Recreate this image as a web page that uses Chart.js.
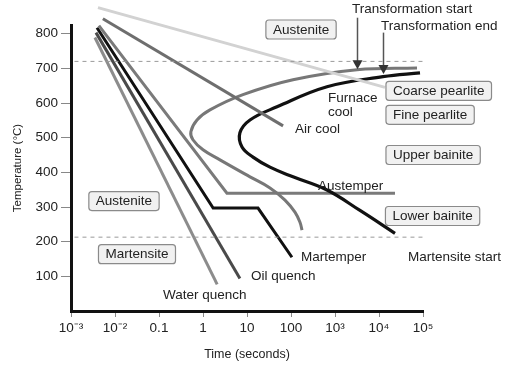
<!DOCTYPE html>
<html>
<head>
<meta charset="utf-8">
<script src="https://cdn.jsdelivr.net/npm/chart.js@4"></script>
<style>
  body { margin: 0; background: #fff; }
  #wrap { width: 532px; height: 375px; position: relative; }
</style>
</head>
<body>
<div id="wrap"><canvas id="ttt"></canvas></div>
<script>
// time in seconds, temperature in °C
const furnaceTime = [0.0041, 13700];
const furnaceTemp = [875, 645];
const airTime = [0.0053, 66];
const airTemp = [843, 534];
const waterTime = [0.0035, 2.1];
const waterTemp = [789, 77];
const oilTime = [0.0037, 6.9];
const oilTemp = [803, 94];
const martemperTime = [0.0039, 1.7, 17.8, 105];
const martemperTemp = [817, 297, 297, 155];
const austemperTime = [0.0043, 3.5, 23100];
const austemperTemp = [823, 340, 340];

// transformation start / end C-curves
const startTime = [73100, 3160, 111, 8.1, 1.44, 0.73, 0.53, 0.59, 1.0, 2.43, 11.7, 33.3, 73, 123, 160, 178];
const startTemp = [701, 696, 667, 624, 580, 551, 517, 494, 465, 436, 387, 355, 320, 285, 256, 233];
const endTime = [85500, 12300, 658, 48.1, 11.7, 6.9, 7.7, 13.7, 33.3, 111, 658, 3700, 23100];
const endTemp = [687, 676, 647, 589, 551, 514, 473, 444, 415, 387, 349, 290, 224];

// eutectoid and martensite-start temperatures
const a1Temp = 720;
const msTemp = 213;
const refTime = [0.0012, 100000];

const xTicks = [0.001, 0.01, 0.1, 1, 10, 100, 1000, 10000, 100000];
const xTickLabels = ['10⁻³', '10⁻²', '0.1', '1', '10', '100', '10³', '10⁴', '10⁵'];
const yTicks = [100, 200, 300, 400, 500, 600, 700, 800];

const FONT = '"Liberation Sans", Arial, sans-serif';

function pts(ts, vs) {
  return ts.map((t, i) => ({ x: t, y: vs[i] }));
}

// labels and boxes, anchored in data coordinates
const boxes = [
  { text: 'Austenite', t: 169, T: 812, align: 'center' },
  { text: 'Coarse pearlite', t: 14400, T: 635, align: 'left' },
  { text: 'Fine pearlite', t: 14400, T: 566, align: 'left' },
  { text: 'Upper bainite', t: 14400, T: 450, align: 'left' },
  { text: 'Lower bainite', t: 14000, T: 274, align: 'left' },
  { text: 'Austenite', t: 0.016, T: 317, align: 'center' },
  { text: 'Martensite', t: 0.0316, T: 164, align: 'center' }
];
const labels = [
  { text: 'Transformation start', t: 2433, T: 870 },
  { text: 'Transformation end', t: 11100, T: 820 },
  { text: 'Furnace', t: 693, T: 615 },
  { text: 'cool', t: 693, T: 572 },
  { text: 'Air cool', t: 123, T: 524 },
  { text: 'Austemper', t: 411, T: 360 },
  { text: 'Martemper', t: 169, T: 155 },
  { text: 'Martensite start', t: 45600, T: 155 },
  { text: 'Oil quench', t: 12.3, T: 100 },
  { text: 'Water quench', t: 0.123, T: 45 }
];
const arrows = [
  { t: 3162, from: 846, to: 697 },
  { t: 12300, from: 803, to: 684 }
];

const annotate = {
  id: 'annotate',
  afterDatasetsDraw(chart) {
    const { ctx, scales: { x, y } } = chart;
    ctx.save();
    ctx.font = '13.5px ' + FONT;
    ctx.textBaseline = 'middle';

    arrows.forEach(a => {
      const px = Math.round(x.getPixelForValue(a.t)) + 0.5;
      const y0 = y.getPixelForValue(a.from);
      const y1 = y.getPixelForValue(a.to);
      ctx.strokeStyle = '#555';
      ctx.lineWidth = 1.5;
      ctx.beginPath();
      ctx.moveTo(px, y0);
      ctx.lineTo(px, y1 - 6);
      ctx.stroke();
      ctx.fillStyle = '#333';
      ctx.beginPath();
      ctx.moveTo(px - 5, y1 - 9);
      ctx.lineTo(px + 5, y1 - 9);
      ctx.lineTo(px, y1);
      ctx.closePath();
      ctx.fill();
    });

    boxes.forEach(b => {
      const w = ctx.measureText(b.text).width + 14;
      const h = 19;
      const cx = x.getPixelForValue(b.t);
      const cy = y.getPixelForValue(b.T);
      const left = b.align === 'left' ? cx : cx - w / 2;
      ctx.fillStyle = '#f1f1f1';
      ctx.strokeStyle = '#8a8a8a';
      ctx.lineWidth = 1.2;
      ctx.beginPath();
      ctx.roundRect(left, cy - h / 2, w, h, 3);
      ctx.fill();
      ctx.stroke();
      ctx.fillStyle = '#222';
      ctx.textAlign = 'left';
      ctx.fillText(b.text, left + 7, cy + 0.5);
    });

    ctx.fillStyle = '#222';
    ctx.textAlign = 'left';
    labels.forEach(l => {
      ctx.fillText(l.text, x.getPixelForValue(l.t), y.getPixelForValue(l.T));
    });
    ctx.restore();
  }
};

function line(data, color, width, tension) {
  return {
    data: data,
    borderColor: color,
    borderWidth: width,
    tension: tension || 0,
    pointRadius: 0,
    fill: false,
    clip: false
  };
}

const dash = (temp) => ({
  data: pts(refTime, [temp, temp]),
  borderColor: '#9a9a9a',
  borderWidth: 1,
  borderDash: [4, 4],
  pointRadius: 0,
  fill: false
});

new Chart(document.getElementById('ttt'), {
  type: 'line',
  data: {
    datasets: [
      dash(a1Temp),
      dash(msTemp),
      line(pts(furnaceTime, furnaceTemp), '#d2d2d2', 3),
      line(pts(airTime, airTemp), '#6e6e6e', 3),
      line(pts(startTime, startTemp), '#777777', 3, 0.4),
      line(pts(endTime, endTemp), '#111111', 3.2, 0.4),
      line(pts(austemperTime, austemperTemp), '#7a7a7a', 3),
      line(pts(waterTime, waterTemp), '#8c8c8c', 3),
      line(pts(oilTime, oilTemp), '#4a4a4a', 3),
      line(pts(martemperTime, martemperTemp), '#111111', 3)
    ]
  },
  options: {
    responsive: true,
    maintainAspectRatio: false,
    animation: false,
    layout: { padding: { left: 0, right: 109, top: 25, bottom: 0 } },
    plugins: { legend: { display: false }, tooltip: { enabled: false } },
    scales: {
      x: {
        type: 'logarithmic',
        min: 0.001,
        max: 100000,
        afterBuildTicks: s => { s.ticks = xTicks.map(v => ({ value: v })); },
        afterFit: s => { s.height = 64; },
        grid: { drawOnChartArea: false, tickLength: 6, color: '#888' },
        border: { display: true, color: '#111', width: 3 },
        ticks: {
          autoSkip: false,
          maxRotation: 0,
          padding: 3,
          color: '#222',
          font: { family: FONT, size: 13.5 },
          callback: v => xTickLabels[xTicks.indexOf(v)]
        },
        title: {
          display: true,
          text: 'Time (seconds)',
          color: '#222',
          font: { family: FONT, size: 12.5 },
          padding: { top: 0, bottom: 13 }
        }
      },
      y: {
        min: 0,
        max: 825,
        afterBuildTicks: s => { s.ticks = yTicks.map(v => ({ value: v })); },
        afterFit: s => { s.width = 71; },
        grid: { drawOnChartArea: false, tickLength: 10, color: '#888' },
        border: { display: true, color: '#111', width: 3 },
        ticks: {
          padding: 3,
          color: '#222',
          font: { family: FONT, size: 13.5 }
        },
        title: {
          display: true,
          text: 'Temperature (°C)',
          color: '#222',
          font: { family: FONT, size: 11.5 },
          padding: { top: 11, bottom: 0 }
        }
      }
    }
  },
  plugins: [annotate]
});
</script>
</body>
</html>
